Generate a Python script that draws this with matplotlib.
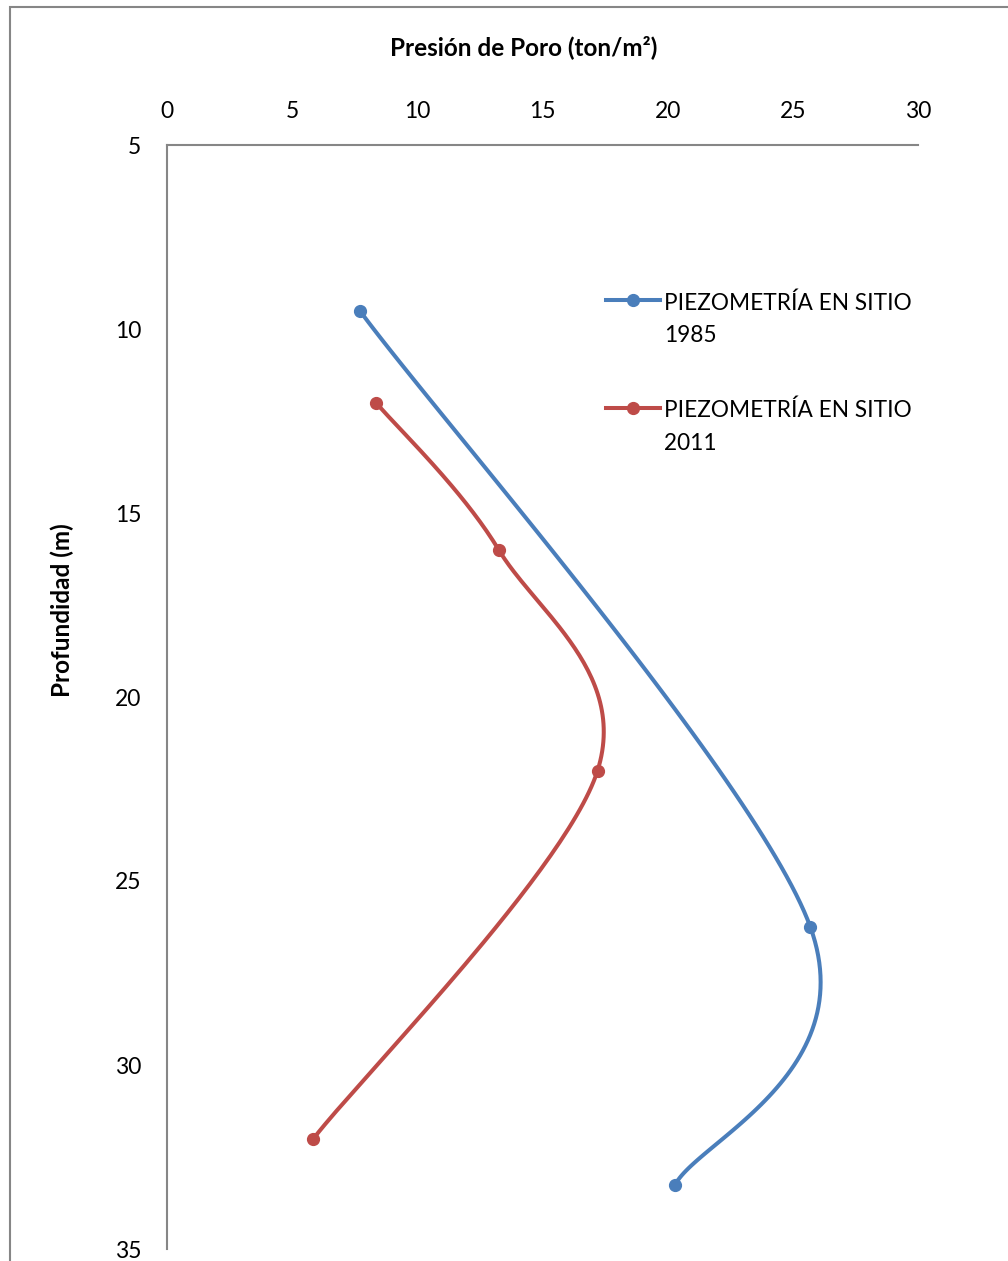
import numpy as np
import matplotlib
matplotlib.use("Agg")
import matplotlib.pyplot as plt
from matplotlib.patches import Rectangle
from matplotlib.legend_handler import HandlerLine2D

# Data
pres_1985 = [7.7, 25.7, 20.3]
prof_1985 = [9.5, 26.25, 33.25]
pres_2011 = [8.35, 13.25, 17.2, 5.85]
prof_2011 = [12.0, 16.0, 22.0, 32.0]
labels = ["PIEZOMETRÍA EN SITIO\n1985", "PIEZOMETRÍA EN SITIO\n2011"]
xticks = [0, 5, 10, 15, 20, 25, 30]
yticks = [5, 10, 15, 20, 25, 30, 35]

BLUE = "#4A7EBB"
RED = "#BE4B48"
GRAY = "#868686"

plt.rcParams['font.family'] = ['Lato', 'DejaVu Sans']


def smooth(xs, ys, n=60):
    P = np.column_stack([xs, ys]).astype(float)
    m = len(P)
    out = []
    for i in range(m - 1):
        p0 = P[i - 1] if i > 0 else P[i]
        p1 = P[i]
        p2 = P[i + 1]
        p3 = P[i + 2] if i + 2 < m else P[i + 1]
        c1 = p1 + (p2 - p0) / 6.0
        c2 = p2 - (p3 - p1) / 6.0
        t = np.linspace(0, 1, n)[:, None]
        seg = ((1 - t) ** 3) * p1 + 3 * ((1 - t) ** 2) * t * c1 + 3 * (1 - t) * t ** 2 * c2 + t ** 3 * p2
        out.append(seg if i == 0 else seg[1:])
    s = np.vstack(out)
    return s[:, 0], s[:, 1]


class HandlerUp(HandlerLine2D):
    def __init__(self, shift, **kw):
        super().__init__(**kw)
        self.shift = shift

    def create_artists(self, legend, orig_handle, xdescent, ydescent, width,
                       height, fontsize, trans):
        return super().create_artists(legend, orig_handle, xdescent,
                                      ydescent - 2 * self.shift, width, height,
                                      fontsize, trans)


fig = plt.figure(figsize=(10.08, 12.61), dpi=100)
fig.patches.append(Rectangle((10 / 1008, -0.1), 1.2, (1261 - 7) / 1261 + 0.1,
                             transform=fig.transFigure, fill=False,
                             edgecolor=GRAY, linewidth=1.5))

ax = fig.add_axes([167 / 1008, 1 - 1249 / 1261, 751 / 1008, 1104 / 1261])
ax.set_xlim(0, 30)
ax.set_ylim(35, 5)

handles = []
for xs, ys, c, lab in [(pres_1985, prof_1985, BLUE, labels[0]),
                       (pres_2011, prof_2011, RED, labels[1])]:
    sx, sy = smooth(xs, ys)
    ax.plot(sx, sy, color=c, lw=2.9, solid_capstyle='round', zorder=3)
    ax.plot(xs, ys, 'o', color=c, ms=8.5, zorder=4)
    h, = ax.plot([], [], '-o', color=c, lw=2.9, ms=8.5, label=lab)
    handles.append(h)

ax.xaxis.tick_top()
ax.set_xticks(xticks)
ax.set_yticks(yticks)
ax.tick_params(axis='both', length=0, labelsize=16.5, colors='black')
ax.tick_params(axis='x', pad=16.5)
ax.tick_params(axis='y', pad=18.5)
for s in ['right', 'bottom']:
    ax.spines[s].set_visible(False)
for s in ['top', 'left']:
    ax.spines[s].set_color(GRAY)
    ax.spines[s].set_linewidth(1.5)

fig.text(524 / 1008, 1 - 47 / 1261, "Presión de Poro (ton/m²)", ha='center', va='center',
         fontsize=17.5, fontweight='bold')
fig.text(62 / 1008, 1 - 610 / 1261, "Profundidad (m)", ha='center', va='center',
         rotation=90, fontsize=17.5, fontweight='bold')

hm = {h: HandlerUp(14) for h in handles}
leg = ax.legend(handles=handles, loc='upper left',
                bbox_to_anchor=((597 - 167) / 751, 1 - (283 - 145) / 1104),
                frameon=False, fontsize=16.3, handlelength=2.4, handletextpad=0.15,
                labelspacing=2.35, borderaxespad=0, handler_map=hm)
for t in leg.get_texts():
    t.set_linespacing(1.7)

fig.savefig("out.png", dpi=100)
